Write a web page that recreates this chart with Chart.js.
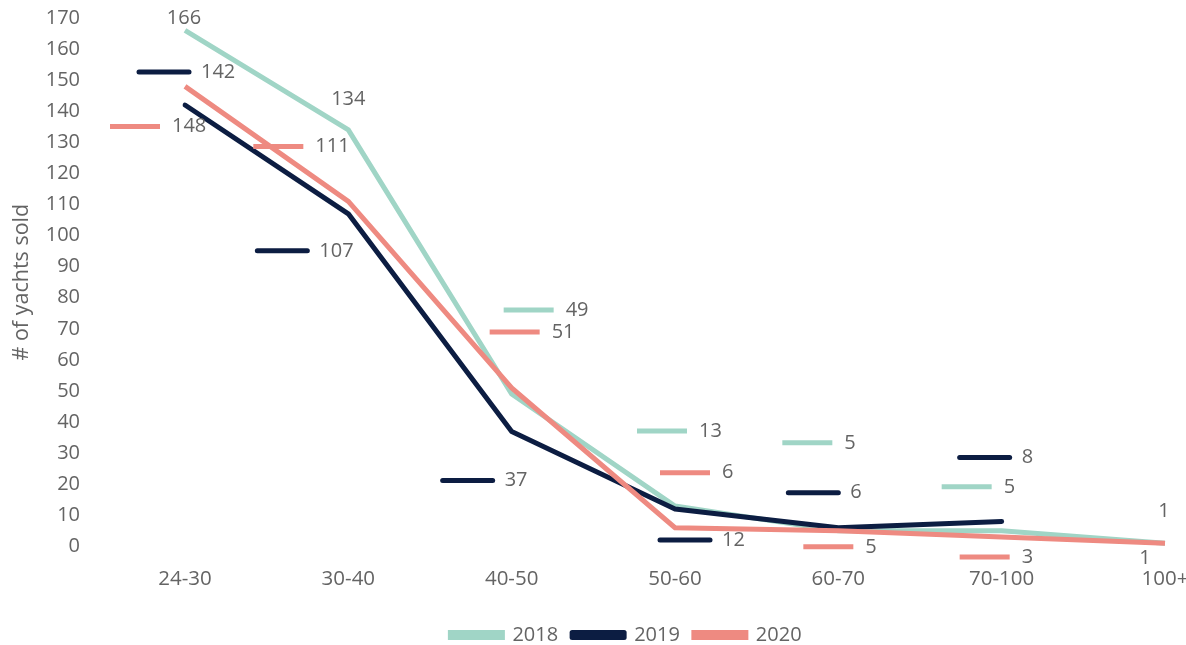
<!DOCTYPE html>
<html>
<head>
<meta charset="utf-8">
<script src="https://cdn.jsdelivr.net/npm/chart.js@4.4.1/dist/chart.umd.min.js"></script>
<style>
  html, body { margin: 0; padding: 0; background: #fff; }
  #wrap { width: 1186px; height: 645px; }
</style>
</head>
<body>
<div id="wrap"><canvas id="yachtChart"></canvas></div>
<script>
const categories = ['24-30', '30-40', '40-50', '50-60', '60-70', '70-100', '100+'];
const sold2018 = [166, 134, 49, 13, 5, 5, 1];
const sold2019 = [142, 107, 37, 12, 6, 8, null];
const sold2020 = [148, 111, 51, 6, 5, 3, 1];

const mint = '#a0d5c6';
const navy = '#0c1d42';
const salmon = '#ee8a81';
const grey = '#646464';

// where Excel put each data label, relative to its point: [dx, dy, hasKey]
const labelSpots = {
  0: [[-1, -12, 0], [0, -31, 0], [17, -84, 1], [-13, -75, 1], [-31, -88, 1], [-35, -44, 1], [-1, -32, 0]],
  1: [[-21, -33, 1], [-66, 37, 1], [-44, 49, 1], [10, 31, 1], [-25, -35, 1], [-17, -64, 1], null],
  2: [[-50, 40, 1], [-70, -55, 1], [3, -56, 1], [10, -55, 1], [-10, 16, 1], [-17, 20, 1], [-20, 15, 0]]
};

const keyLabels = {
  id: 'keyLabels',
  afterLayout(chart) {
    // legend sits a bit right of the canvas centre in the original
    chart.legend.left += 33;
    chart.legend.right += 33;
  },
  afterDatasetsDraw(chart) {
    const ctx = chart.ctx;
    ctx.save();
    ctx.font = '20px "Open Sans", sans-serif';
    ctx.textBaseline = 'middle';
    chart.data.datasets.forEach((ds, di) => {
      const meta = chart.getDatasetMeta(di);
      meta.data.forEach((pt, i) => {
        const spot = labelSpots[di][i];
        if (!spot || ds.data[i] == null) return;
        const cx = pt.x + spot[0];
        const cy = pt.y + spot[1];
        ctx.fillStyle = grey;
        if (spot[2]) {
          ctx.beginPath();
          ctx.strokeStyle = ds.borderColor;
          ctx.lineWidth = 5;
          ctx.lineCap = ds.borderCapStyle;
          ctx.moveTo(cx - 25, cy);
          ctx.lineTo(cx + 25, cy);
          ctx.stroke();
          ctx.textAlign = 'left';
          ctx.fillText(String(ds.data[i]), cx + 37, cy);
        } else {
          ctx.textAlign = 'center';
          ctx.fillText(String(ds.data[i]), cx, cy);
        }
      });
    });
    ctx.restore();
  }
};

Chart.defaults.font.family = '"Open Sans", sans-serif';
Chart.defaults.color = grey;

new Chart(document.getElementById('yachtChart'), {
  type: 'line',
  data: {
    labels: categories,
    datasets: [
      { label: '2018', data: sold2018, borderColor: mint, backgroundColor: mint, borderWidth: 5, borderCapStyle: 'butt', order: 3 },
      { label: '2019', data: sold2019, borderColor: navy, backgroundColor: navy, borderWidth: 5, borderCapStyle: 'round', borderJoinStyle: 'round', order: 2 },
      { label: '2020', data: sold2020, borderColor: salmon, backgroundColor: salmon, borderWidth: 5, borderCapStyle: 'butt', order: 1 }
    ]
  },
  options: {
    responsive: true,
    maintainAspectRatio: false,
    animation: false,
    layout: { padding: { top: 18, right: 0, left: 0, bottom: -10 } },
    elements: { point: { radius: 0 }, line: { tension: 0 } },
    scales: {
      x: {
        offset: false,
        grid: { display: false, drawTicks: false },
        border: { display: false },
        ticks: { font: { size: 20.5 }, padding: 20, maxRotation: 0, autoSkip: false },
        afterFit(scale) { scale.paddingLeft = 0; scale.paddingRight = 21; }
      },
      y: {
        min: 0,
        max: 170,
        grid: { display: false, drawTicks: false },
        border: { display: false },
        ticks: { stepSize: 10, font: { size: 20 }, padding: 105, autoSkip: false },
        title: { display: true, text: '# of yachts sold', font: { size: 21.5 }, padding: { top: 9, bottom: 0 } },
        afterFit(scale) {
          scale.width = 185;
          scale.paddingTop = 0;
          scale.paddingBottom = 0;
        }
      }
    },
    plugins: {
      legend: {
        position: 'bottom',
        labels: {
          boxWidth: 52,
          boxHeight: 5,
          padding: 14,
          font: { size: 20 },
          sort: (a, b) => a.datasetIndex - b.datasetIndex
        }
      },
      tooltip: { enabled: false }
    }
  },
  plugins: [keyLabels]
});
</script>
</body>
</html>
